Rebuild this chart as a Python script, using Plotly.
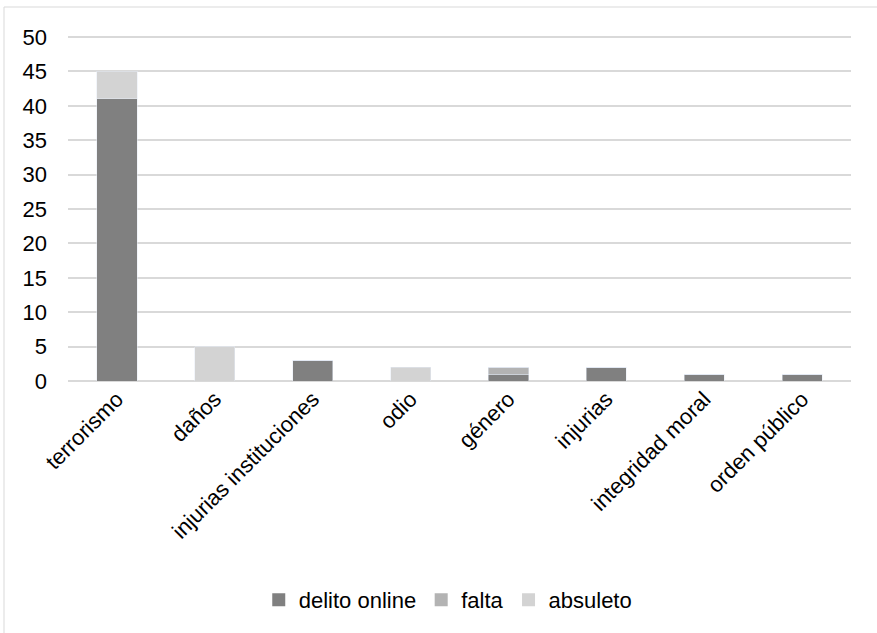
import plotly.graph_objects as go

categories = ["terrorismo", "daños", "injurias instituciones", "odio", "género",
              "injurias", "integridad moral", "orden público"]
series_names = ["delito online", "falta", "absuleto"]
delito_online = [41, 0, 3, 0, 1, 2, 1, 1]
falta = [0, 0, 0, 0, 1, 0, 0, 0]
absuleto = [4, 5, 0, 2, 0, 0, 0, 0]
colors = ["#808080", "#b3b3b3", "#d3d3d3"]

FONT = "Liberation Sans Narrow, Arial Narrow, Arial, sans-serif"

fig = go.Figure()
for name, vals, col in zip(series_names, [delito_online, falta, absuleto], colors):
    fig.add_bar(x=categories, y=vals, name=name, marker_color=col, showlegend=False)
for name, col in zip(series_names, colors):
    fig.add_scatter(x=[None], y=[None], mode="markers", name=name,
                    marker=dict(symbol="square", size=13, color=col))

L, R, T, B = 68, 26, 36, 252
W, H = 877, 633
pw, ph = W - L - R, H - T - B

fig.update_layout(
    barmode="stack",
    bargap=0.59,
    width=W, height=H,
    margin=dict(l=L, r=R, t=T, b=B),
    paper_bgcolor="white",
    plot_bgcolor="white",
    font=dict(family=FONT, size=22, color="#000000"),
    showlegend=True,
    legend=dict(orientation="h", x=0.485, xanchor="center", y=(381 - 600) / ph,
                yanchor="middle", font=dict(size=22), traceorder="normal",
                itemwidth=30),
    xaxis=dict(tickangle=-45, showgrid=False, showline=False, ticks="",
               tickfont=dict(size=22)),
    yaxis=dict(range=[0, 50.15], tickvals=list(range(0, 51, 5)), showgrid=True,
               gridcolor="#d9d9d9", gridwidth=1.5, zeroline=True,
               zerolinecolor="#d9d9d9", zerolinewidth=1.5, showline=False,
               ticks="", ticklabelstandoff=20, tickfont=dict(size=22)),
    shapes=[dict(type="rect", xref="paper", yref="paper",
                 x0=(4 - L) / pw, x1=(884 - L) / pw,
                 y0=-(640 - (H - B)) / ph, y1=1 + (T - 7) / ph,
                 line=dict(color="#d9d9d9", width=1), layer="below")],
)

fig.write_html("out.html")
